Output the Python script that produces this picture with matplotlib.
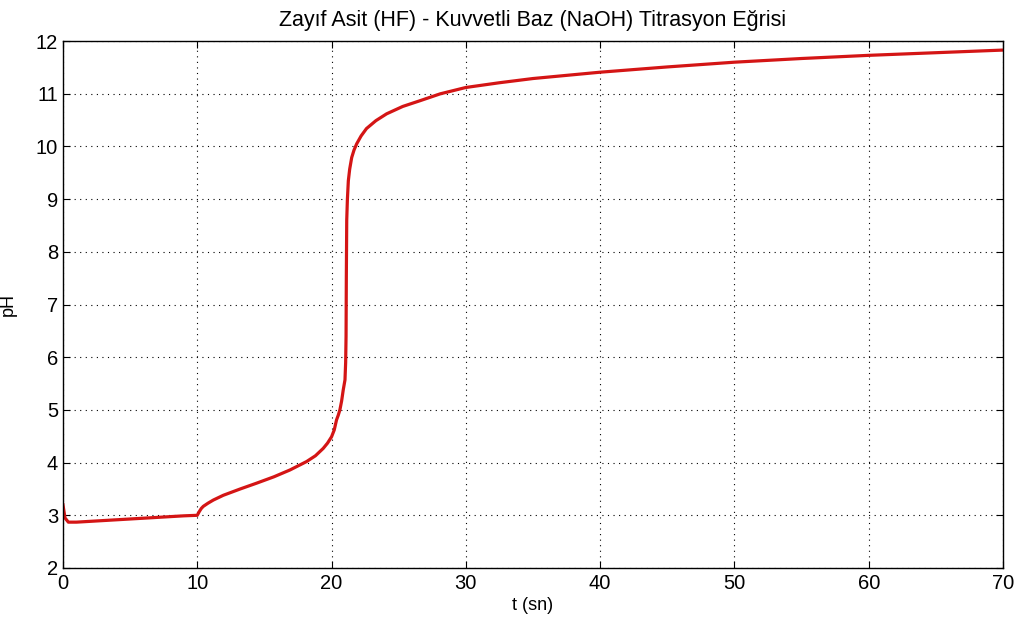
import matplotlib
matplotlib.use("Agg")
import matplotlib.pyplot as plt

# titration curve (time in s, pH)
t_sn = [0, 0.15, 0.4, 1, 3, 5, 7, 9, 10, 10.15, 10.3, 10.45, 10.8, 11.2, 11.94, 13.2,
        14.42, 15.7, 16.9, 18.14, 18.8, 19.38, 19.7, 20.0, 20.2, 20.37, 20.5, 20.62,
        20.75, 20.87, 21.0, 21.05, 21.08, 21.1, 21.13, 21.18, 21.25, 21.35, 21.5, 21.67,
        21.87, 22.2, 22.6, 23.3, 24.1, 25.3, 26.6, 28.1, 30, 32.5, 35, 40, 45, 50, 55,
        60, 65, 70]
ph = [3.2, 2.95, 2.87, 2.87, 2.9, 2.93, 2.96, 2.99, 3.0, 3.07, 3.13, 3.17, 3.23, 3.29,
      3.38, 3.5, 3.61, 3.73, 3.86, 4.02, 4.13, 4.27, 4.37, 4.49, 4.62, 4.81, 4.9, 5.0,
      5.17, 5.38, 5.57, 5.9, 6.4, 7.5, 8.6, 9.0, 9.35, 9.57, 9.79, 9.93, 10.05, 10.2,
      10.34, 10.49, 10.62, 10.76, 10.87, 11.0, 11.12, 11.21, 11.29, 11.41, 11.51, 11.6,
      11.67, 11.73, 11.78, 11.83]

RED = "#d41515"
plt.rcParams["font.family"] = ["Liberation Sans", "DejaVu Sans"]

fig = plt.figure(figsize=(10.19, 6.23), dpi=100)
ax = fig.add_axes([0.0618, 0.0883, 0.9225, 0.8457])
ax.plot(t_sn, ph, color=RED, lw=2.3, solid_joinstyle="round")
ax.set_xlim(0, 70); ax.set_ylim(2, 12)
ax.set_xticks(range(0, 71, 10)); ax.set_yticks(range(2, 13))
ax.grid(True, color="black", ls=(0, (1, 4)), lw=0.8)
ax.tick_params(direction="in", top=True, right=True, labelsize=14.5, length=5)
ax.tick_params(axis="x", pad=4); ax.tick_params(axis="y", pad=3.5)
for s in ax.spines.values(): s.set_linewidth(1.0)
ax.set_title("Zayıf Asit (HF) - Kuvvetli Baz (NaOH) Titrasyon Eğrisi", fontsize=15.5, pad=11)
ax.set_xlabel("t (sn)", fontsize=13)
ax.set_ylabel("pH", fontsize=13)
ax.xaxis.set_label_coords(0.5, -0.055)
ax.yaxis.set_label_coords(-0.049, 0.5)
fig.savefig("out.png", dpi=100, facecolor="white")
